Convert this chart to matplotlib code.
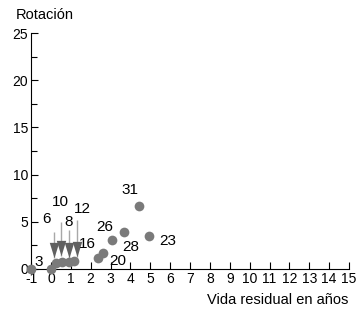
import matplotlib
matplotlib.use("Agg")
import matplotlib.pyplot as plt
import matplotlib.transforms as mtransforms
from matplotlib.ticker import MultipleLocator

plt.rcParams['font.family'] = ['Liberation Sans', 'DejaVu Sans']

# Data points (x = residual life in years, y = rotation)
pt_x = [-1.0, 0.0, 0.25, 0.55, 0.9, 1.15, 2.38, 2.63, 3.1, 3.68, 4.44, 4.94]
pt_y = [0.0, 0.05, 0.6, 0.7, 0.7, 0.85, 1.2, 1.72, 3.07, 3.88, 6.67, 3.52]

# Point labels and their positions
lab_text = ["3", "6", "10", "8", "12", "16", "26", "31", "28", "23", "20"]
lab_x = [-0.6, -0.2, 0.5, 0.9, 1.6, 1.86, 2.71, 3.97, 4.02, 5.88, 3.37]
lab_y = [0.74, 5.3, 7.1, 5.0, 6.35, 2.65, 4.44, 8.36, 2.33, 2.96, 0.85]

# Leader arrows (x, top, tip)
arr_x = [0.15, 0.5, 0.9, 1.3]
arr_top = [3.9, 4.97, 4.1, 5.2]
arr_tip = [1.2, 1.4, 1.2, 1.3]

x_ticks = list(range(-1, 16))
y_ticks = [0, 5, 10, 15, 20, 25]

fig = plt.figure(figsize=(3.59, 3.10), dpi=100)
ax = fig.add_axes([31/359, 1-269/310, 318/359, 236/310])
ax.set_xlim(-1, 15)
ax.set_ylim(0, 25)

for s in ['top', 'right']:
    ax.spines[s].set_visible(False)
for s in ['left', 'bottom']:
    ax.spines[s].set_linewidth(0.8)
    ax.spines[s].set_clip_on(False)

ax.set_xticks(x_ticks)
ax.set_xticklabels([str(t) for t in x_ticks])
ax.set_yticks(y_ticks)
ax.yaxis.set_minor_locator(MultipleLocator(2.5))
ax.tick_params(axis='both', which='both', direction='in', labelsize=10, width=0.8)
ax.tick_params(axis='both', which='major', length=5, pad=2)
ax.tick_params(axis='y', which='minor', length=4)

# leader lines
for x, t, b in zip(arr_x, arr_top, arr_tip):
    ax.plot([x, x], [t, b], color='#a8a8a8', lw=1.0, zorder=2, solid_capstyle='butt')

# arrow heads: downward triangles whose tip sits at arr_tip
tri = [(0, -1), (-0.62, 1), (0.62, 1), (0, -1)]
ms = 11
off = mtransforms.ScaledTranslation(0, ms / 2 / 72, fig.dpi_scale_trans)
ax.plot(arr_x, arr_tip, linestyle='none', marker=tri, markersize=ms,
        color='#606060', markeredgewidth=0, transform=ax.transData + off, zorder=2.5)

ax.plot(pt_x, pt_y, 'o', color='#7a7a7a', markersize=7, markeredgewidth=0,
        clip_on=False, zorder=3)

for t, x, y in zip(lab_text, lab_x, lab_y):
    ax.text(x, y, t, fontsize=11, ha='center', va='center', color='black', zorder=4)

fig.text(45/359, 1-15/310, "Rotación", fontsize=10.5, ha='center', va='center')
fig.text(348/359, 1-300/310, "Vida residual en años", fontsize=10.5, ha='right', va='center')

fig.savefig("out.png", dpi=100)
